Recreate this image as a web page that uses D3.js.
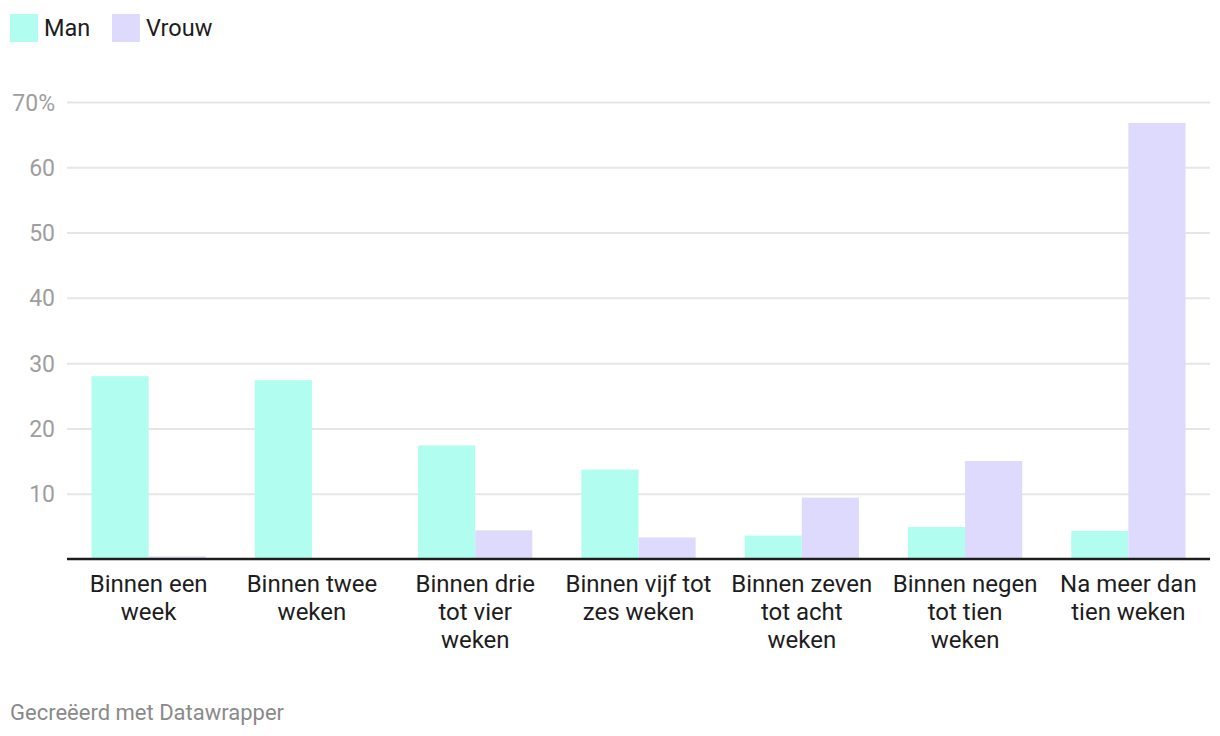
<!DOCTYPE html>
<html>
<head>
<meta charset="utf-8">
<script src="https://cdn.jsdelivr.net/npm/d3@7"></script>
<style>
  html, body { margin: 0; padding: 0; background: #fff; }
  svg { display: block; font-family: Roboto, "Noto Sans", sans-serif; }
</style>
</head>
<body>
<svg id="chart" width="1220" height="736"></svg>
<script>
// ---- data ----
const categories = [
  "Binnen een\nweek",
  "Binnen twee\nweken",
  "Binnen drie\ntot vier\nweken",
  "Binnen vijf tot\nzes weken",
  "Binnen zeven\ntot acht\nweken",
  "Binnen negen\ntot tien\nweken",
  "Na meer dan\ntien weken"
];
const seriesNames = ["Man", "Vrouw"];
const manValues   = [28.0, 27.4, 17.4, 13.7, 3.6, 4.9, 4.3];
const vrouwValues = [0.4, 0, 4.4, 3.3, 9.4, 15.0, 66.8];
const yTicks = [10, 20, 30, 40, 50, 60, 70];
const colors = ["#b1fef0", "#dedafe"];
const footer = "Gecreëerd met Datawrapper";

// ---- layout ----
const svg = d3.select("#chart");
const mLeft = 67, mRight = 1210, mTop = 102, mBottom = 559;

const x0 = d3.scaleBand().domain(categories).range([mLeft, mRight]).paddingInner(0.3).paddingOuter(0.15);
const x1 = d3.scaleBand().domain(seriesNames).range([0, x0.bandwidth()]);
const y = d3.scaleLinear().domain([0, 70]).range([mBottom, mTop]);
const color = d3.scaleOrdinal().domain(seriesNames).range(colors);

// legend
const legend = svg.append("g");
const legendX = [10, 112];
seriesNames.forEach((name, i) => {
  const g = legend.append("g").attr("transform", `translate(${legendX[i]},14)`);
  g.append("rect").attr("width", 28).attr("height", 28).attr("fill", color(name));
  g.append("text").attr("x", 34).attr("y", 22).attr("font-size", 23.5).attr("fill", "#1d1d1d").text(name);
});

// y grid + labels
const yAxis = d3.axisLeft(y).tickValues(yTicks).tickSize(-(mRight - mLeft))
  .tickFormat(d => d === 70 ? d + "%" : d);
const yg = svg.append("g").attr("transform", `translate(${mLeft},0)`).call(yAxis);
yg.select(".domain").remove();
yg.selectAll(".tick line").attr("stroke", "#e6e6e6").attr("stroke-width", 2);
yg.selectAll(".tick text").attr("x", -12).attr("dy", "0.35em")
  .attr("font-size", 23).attr("fill", "#9e9e9e").attr("font-family", "Roboto, sans-serif");

// bars
const data = categories.map((c, i) => ({ cat: c, vals: [
  { key: "Man", value: manValues[i] },
  { key: "Vrouw", value: vrouwValues[i] }
]}));
const groups = svg.append("g").selectAll("g").data(data).join("g")
  .attr("transform", d => `translate(${x0(d.cat)},0)`);
groups.selectAll("rect").data(d => d.vals).join("rect")
  .attr("x", d => x1(d.key))
  .attr("width", x1.bandwidth())
  .attr("y", d => y(d.value))
  .attr("height", d => y(0) - y(d.value))
  .attr("fill", d => color(d.key));

// baseline
svg.append("line").attr("x1", mLeft).attr("x2", mRight)
  .attr("y1", y(0)).attr("y2", y(0)).attr("stroke", "#1d1d1d").attr("stroke-width", 2.5);

// x labels
const xAxis = d3.axisBottom(x0).tickSize(0).tickFormat("");
const xg = svg.append("g").attr("transform", `translate(0,${mBottom})`).call(xAxis);
xg.select(".domain").remove();
xg.selectAll(".tick").each(function(d) {
  const t = d3.select(this).append("text")
    .attr("text-anchor", "middle").attr("font-size", 24).attr("fill", "#1d1d1d")
    .attr("font-family", "Roboto, sans-serif");
  d.split("\n").forEach((line, i) => {
    t.append("tspan").attr("x", 0).attr("y", 33 + i * 28).text(line);
  });
});

// footer
svg.append("text").attr("x", 10).attr("y", 720).attr("font-size", 22)
  .attr("fill", "#8a8a8a").text(footer);
</script>
</body>
</html>
